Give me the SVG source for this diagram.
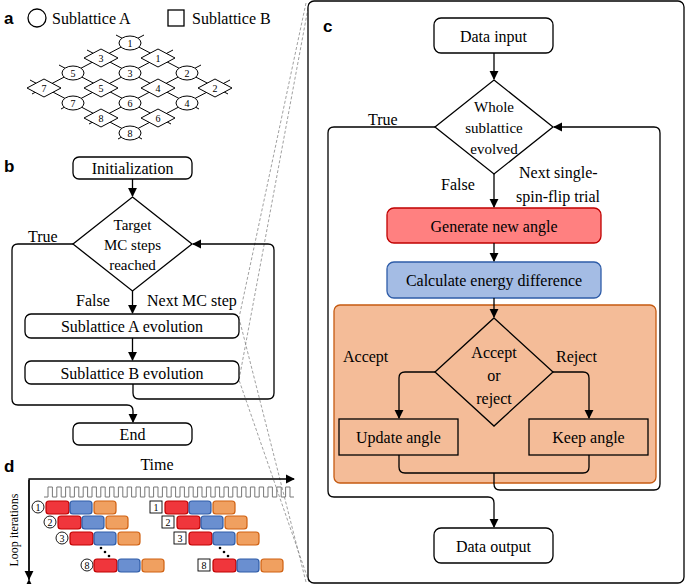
<svg xmlns="http://www.w3.org/2000/svg" width="685" height="584" viewBox="0 0 685 584">
<style>
text{font-family:"Liberation Serif",serif;fill:#000}
.t{font-size:16px}
.s{font-size:15px}
.n{font-size:10px}
.lbl{font-family:"Liberation Sans",sans-serif;font-weight:bold;font-size:17px}
.b{fill:#fff;stroke:#000;stroke-width:1.3}
.ln{fill:none;stroke:#000;stroke-width:1.3}
.lat{fill:none;stroke:#000;stroke-width:1}
.dash{fill:none;stroke:#888;stroke-width:0.8;stroke-dasharray:3,2}
.r{fill:#f0363c;stroke:#c00000;stroke-width:1.2}
.bl{fill:#6a8fd0;stroke:#2e5ca8;stroke-width:1.2}
.o{fill:#f0a060;stroke:#d06010;stroke-width:1.2}
</style>
<defs>
<marker id="ar" viewBox="0 0 10 10" refX="9" refY="5" markerWidth="7" markerHeight="7" orient="auto"><path d="M0,0L10,5L0,10z" fill="#000"/></marker>
</defs>

<!-- panel a -->
<g id="panel-a">
<text x="4" y="24" class="lbl">a</text>
<circle cx="37" cy="18" r="9" class="b" stroke-width="1"/>
<text x="52" y="24" class="t">Sublattice A</text>
<rect x="168" y="10" width="16" height="16" class="b" stroke-width="1"/>
<text x="192" y="24" class="t">Sublattice B</text>
<g class="lat">
<path d="M116,35L228,94M87,50L199,109M59,65L171,124M30,80L142,139"/>
<path d="M144,35L32,94M173,50L61,109M201,65L89,124M230,80L118,139"/>
</g>
<g id="lattice-nodes" stroke="#000" stroke-width="1" fill="#fff">
<ellipse cx="130" cy="43" rx="11" ry="7"/><ellipse cx="130" cy="73" rx="11" ry="7"/><ellipse cx="187" cy="73" rx="11" ry="7"/><ellipse cx="73" cy="73" rx="11" ry="7"/>
<ellipse cx="187" cy="103" rx="11" ry="7"/><ellipse cx="130" cy="103" rx="11" ry="7"/><ellipse cx="73" cy="103" rx="11" ry="7"/><ellipse cx="130" cy="133" rx="11" ry="7"/>
<path d="M141,58l17,-9l17,9l-17,9z M84,58l17,-9l17,9l-17,9z M198,88l17,-9l17,9l-17,9z M141,88l17,-9l17,9l-17,9z M84,88l17,-9l17,9l-17,9z M27,88l17,-9l17,9l-17,9z M141,118l17,-9l17,9l-17,9z M84,118l17,-9l17,9l-17,9z"/>
</g>
<g class="n" text-anchor="middle">
<text x="130" y="47">1</text><text x="130" y="77">3</text><text x="187" y="77">2</text><text x="73" y="77">5</text>
<text x="187" y="107">4</text><text x="130" y="107">6</text><text x="73" y="107">7</text><text x="130" y="137">8</text>
<text x="158" y="62">1</text><text x="101" y="62">3</text><text x="215" y="92">2</text><text x="158" y="92">4</text><text x="101" y="92">5</text><text x="44" y="92">7</text><text x="158" y="122">6</text><text x="101" y="122">8</text>
</g>
</g>

<!-- dashed zoom lines -->
<g id="zoom-lines" class="dash">
<path d="M306,3L239,318M309,3L239,380M306,582L239,318M309,582L239,380"/>
</g>

<!-- panel b -->
<text x="4" y="172" class="lbl">b</text>
<g id="b-init"><rect x="73" y="157" width="119" height="22" rx="6" class="b"/><text x="132.5" y="174" class="t" text-anchor="middle">Initialization</text></g>
<g id="b-target"><path d="M132.5,197L192,244L132.5,291L73,244z" class="b"/>
<text x="132.5" y="230" class="s" text-anchor="middle">Target</text><text x="132.5" y="250" class="s" text-anchor="middle">MC steps</text><text x="132.5" y="270" class="s" text-anchor="middle">reached</text></g>
<g id="b-A"><rect x="25" y="314" width="214" height="24" rx="6" class="b"/><text x="132" y="332" class="t" text-anchor="middle">Sublattice A evolution</text></g>
<g id="b-B"><rect x="25" y="361" width="214" height="23" rx="6" class="b"/><text x="132" y="379" class="t" text-anchor="middle">Sublattice B evolution</text></g>
<g id="b-end"><rect x="73" y="423" width="119" height="22" rx="6" class="b"/><text x="132.5" y="440" class="t" text-anchor="middle">End</text></g>
<g id="b-connectors" class="ln">
<path d="M132.5,179V196" marker-end="url(#ar)"/>
<path d="M132.5,291V313" marker-end="url(#ar)"/>
<path d="M132.5,338V360" marker-end="url(#ar)"/>
<path d="M73,244H18q-6,0 -6,6V399q0,6 6,6H127q6,0 6,6V422" marker-end="url(#ar)"/>
<path d="M133,384V393q0,6 6,6H268q6,0 6,-6V250q0,-6 -6,-6H193" marker-end="url(#ar)"/>
</g>
<text x="28" y="242" class="t">True</text>
<text x="76" y="306" class="t">False</text>
<text x="147" y="306" class="t">Next MC step</text>

<!-- panel c -->
<g id="panel-c">
<rect x="308" y="1" width="376" height="582" rx="6" class="b"/>
<text x="323" y="32" class="lbl">c</text>
<rect x="334" y="305" width="322" height="178" rx="6" fill="#f4bc98" stroke="#c55a11" stroke-width="1.3"/>
</g>
<g id="c-input"><rect x="434" y="18" width="119" height="35" rx="7" class="b"/><text x="493.5" y="42" class="t" text-anchor="middle">Data input</text></g>
<g id="c-whole"><path d="M494,80L553,127L494,174L435,127z" class="b"/>
<text x="494" y="112" class="s" text-anchor="middle">Whole</text><text x="494" y="133" class="s" text-anchor="middle">sublattice</text><text x="494" y="154" class="s" text-anchor="middle">evolved</text></g>
<g id="c-gen"><rect x="387" y="208" width="214" height="35" rx="7" fill="#ff8080" stroke="#c00000" stroke-width="1.3"/><text x="494" y="232" class="t" text-anchor="middle">Generate new angle</text></g>
<g id="c-calc"><rect x="387" y="262" width="214" height="36" rx="7" fill="#a4bce4" stroke="#2e5ca8" stroke-width="1.3"/><text x="494" y="286" class="t" text-anchor="middle">Calculate energy difference</text></g>
<g id="c-accept"><path d="M494,318L553,372L494,426L435,372z" fill="none" stroke="#000" stroke-width="1.3"/>
<text x="494" y="358" class="t" text-anchor="middle">Accept</text><text x="494" y="381" class="t" text-anchor="middle">or</text><text x="494" y="404" class="t" text-anchor="middle">reject</text></g>
<g id="c-update"><rect x="339" y="419" width="119" height="36" fill="none" stroke="#000" stroke-width="1.3"/><text x="398.5" y="443" class="t" text-anchor="middle">Update angle</text></g>
<g id="c-keep"><rect x="529" y="419" width="119" height="36" fill="none" stroke="#000" stroke-width="1.3"/><text x="588.5" y="443" class="t" text-anchor="middle">Keep angle</text></g>
<g id="c-output"><rect x="434" y="528" width="119" height="35" rx="7" class="b"/><text x="493.5" y="552" class="t" text-anchor="middle">Data output</text></g>
<g id="c-connectors" class="ln">
<path d="M494,53V79" marker-end="url(#ar)"/>
<path d="M494,174V207" marker-end="url(#ar)"/>
<path d="M494,243V261" marker-end="url(#ar)"/>
<path d="M494,298V317" marker-end="url(#ar)"/>
<path d="M435,372H405q-6,0 -6,6V418" marker-end="url(#ar)"/>
<path d="M553,372H583q6,0 6,6V418" marker-end="url(#ar)"/>
<path d="M399,455V467q0,6 6,6H583q6,0 6,-6V455"/>
<path d="M494,473V484q0,6 6,6H654q6,0 6,-6V133q0,-6 -6,-6H554" marker-end="url(#ar)"/>
<path d="M435,127H334q-6,0 -6,6V491q0,6 6,6H488q6,0 6,6V527" marker-end="url(#ar)"/>
</g>
<text x="368" y="125" class="t">True</text>
<text x="441" y="190" class="t">False</text>
<text x="519" y="178" class="t">Next single-</text>
<text x="516" y="202" class="t">spin-flip trial</text>
<text x="343" y="362" class="t">Accept</text>
<text x="556" y="362" class="t">Reject</text>

<!-- panel d -->
<g id="panel-d">
<text x="4" y="472" class="lbl">d</text>
<text x="157" y="470" class="t" text-anchor="middle" font-size="17">Time</text>
<path d="M29,580V479H294" class="ln" marker-end="url(#ar)" marker-start="url(#ar)"/>
<path d="M29,480V579" class="ln" marker-end="url(#ar)"/>
<text transform="translate(18,530) rotate(-90)" font-size="12" text-anchor="middle">Loop iterations</text>
<path d="M44,497h4v-10h4.4v10h4.4v-10h4.4v10h4.4v-10h4.4v10h4.4v-10h4.4v10h4.4v-10h4.4v10h4.4v-10h4.4v10h4.4v-10h4.4v10h4.4v-10h4.4v10h4.4v-10h4.4v10h4.4v-10h4.4v10h4.4v-10h4.4v10h4.4v-10h4.4v10h4.4v-10h4.4v10h4.4v-10h4.4v10h4.4v-10h4.4v10h4.4v-10h4.4v10h4.4v-10h4.4v10h4.4v-10h4.4v10h4.4v-10h4.4v10h4.4v-10h4.4v10h4.4v-10h4.4v10h4.4v-10h4.4v10h4.4v-10h4.4v10h4.4v-10h4.4v10h4.4v-10h4.4v10h4.4v-10h4.4v10h4.4v-10h4.4v10h4.4v-10h4.4v10h4" fill="none" stroke="#777" stroke-width="1"/>
<g id="d-rows">
<g stroke="#000" stroke-width="0.9" fill="#fff">
<circle cx="38" cy="507" r="6"/><circle cx="50" cy="522" r="6"/><circle cx="62" cy="538" r="6"/><circle cx="87" cy="565" r="6"/>
<rect x="150" y="501" width="12" height="12"/><rect x="162" y="516" width="12" height="12"/><rect x="174" y="532" width="12" height="12"/><rect x="198" y="559" width="12" height="12"/>
</g>
<g font-size="10" text-anchor="middle">
<text x="38" y="511">1</text><text x="50" y="526">2</text><text x="62" y="542">3</text><text x="87" y="569">8</text>
<text x="156" y="511">1</text><text x="168" y="526">2</text><text x="180" y="542">3</text><text x="204" y="569">8</text>
</g>
<g>
<rect x="46" y="501" width="23" height="13" rx="3" class="r"/><rect x="70" y="501" width="22" height="13" rx="3" class="bl"/><rect x="94" y="501" width="22" height="13" rx="3" class="o"/>
<rect x="58" y="516" width="23" height="13" rx="3" class="r"/><rect x="82" y="516" width="22" height="13" rx="3" class="bl"/><rect x="106" y="516" width="22" height="13" rx="3" class="o"/>
<rect x="70" y="532" width="23" height="13" rx="3" class="r"/><rect x="94" y="532" width="22" height="13" rx="3" class="bl"/><rect x="118" y="532" width="22" height="13" rx="3" class="o"/>
<rect x="94" y="559" width="23" height="13" rx="3" class="r"/><rect x="118" y="559" width="22" height="13" rx="3" class="bl"/><rect x="142" y="559" width="22" height="13" rx="3" class="o"/>
<rect x="165" y="501" width="23" height="13" rx="3" class="r"/><rect x="189" y="501" width="22" height="13" rx="3" class="bl"/><rect x="213" y="501" width="22" height="13" rx="3" class="o"/>
<rect x="177" y="516" width="23" height="13" rx="3" class="r"/><rect x="201" y="516" width="22" height="13" rx="3" class="bl"/><rect x="225" y="516" width="22" height="13" rx="3" class="o"/>
<rect x="189" y="532" width="23" height="13" rx="3" class="r"/><rect x="213" y="532" width="22" height="13" rx="3" class="bl"/><rect x="237" y="532" width="22" height="13" rx="3" class="o"/>
<rect x="213" y="559" width="23" height="13" rx="3" class="r"/><rect x="237" y="559" width="22" height="13" rx="3" class="bl"/><rect x="261" y="559" width="22" height="13" rx="3" class="o"/>
</g>
<g fill="#000">
<circle cx="101" cy="548" r="1.3"/><circle cx="105" cy="552" r="1.3"/><circle cx="109" cy="556" r="1.3"/>
<circle cx="220" cy="548" r="1.3"/><circle cx="224" cy="552" r="1.3"/><circle cx="228" cy="556" r="1.3"/>
</g>
</g>
</g>
</svg>
